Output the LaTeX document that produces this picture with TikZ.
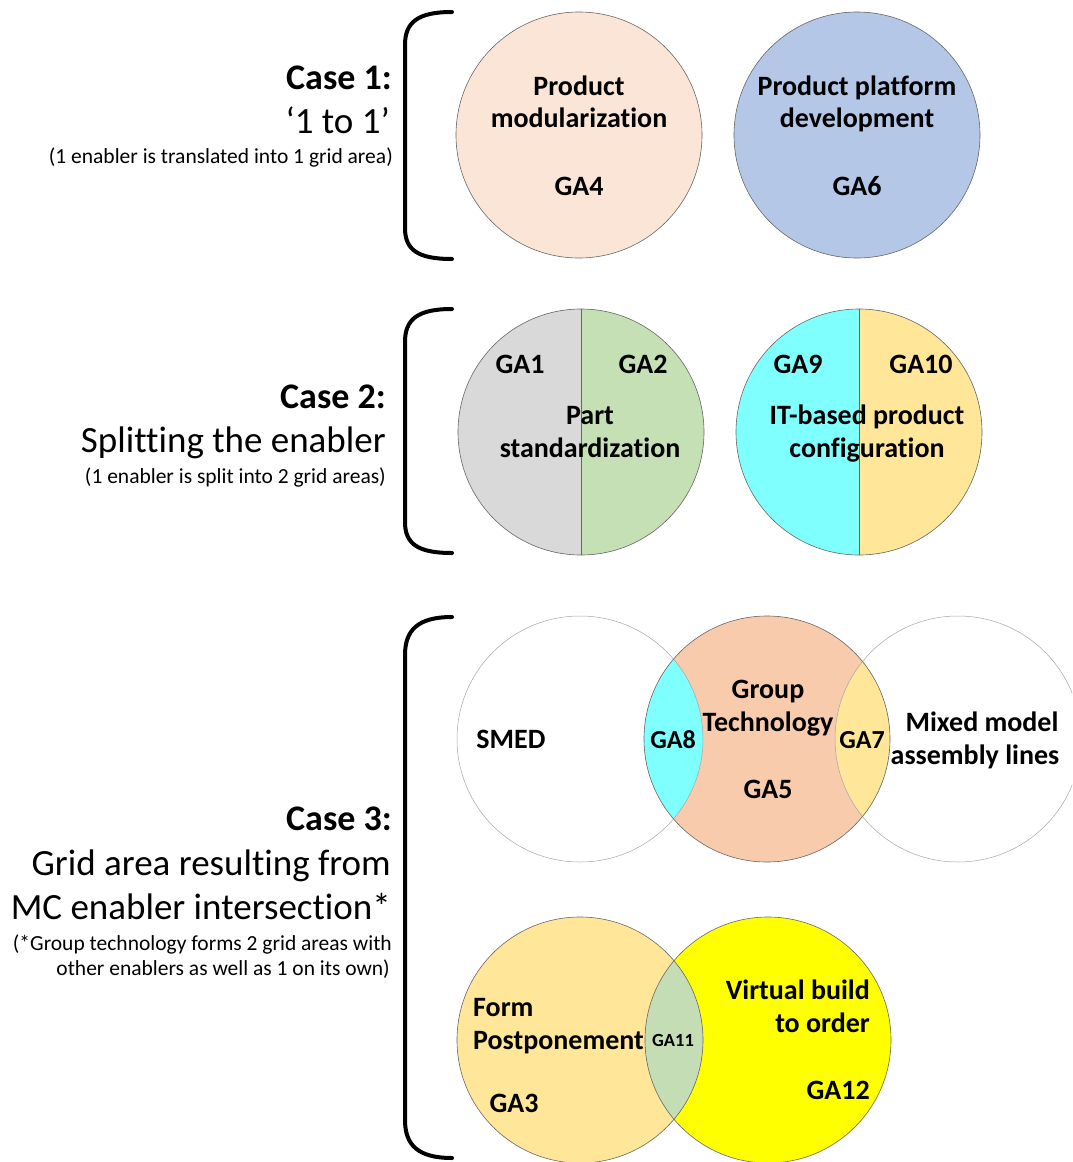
\documentclass[tikz,border=0pt]{standalone}
\usepackage{fontspec}
\setmainfont{Carlito}[Ligatures=CommonOff]
\definecolor{peach}{HTML}{FBE5D6}
\definecolor{steel}{HTML}{B4C7E7}
\definecolor{lgrey}{HTML}{D9D9D9}
\definecolor{lgreen}{HTML}{C5E0B4}
\definecolor{aqua}{HTML}{80FFFF}
\definecolor{sand}{HTML}{FFE699}
\definecolor{salmon}{HTML}{F8CBAD}
\definecolor{lemon}{HTML}{FFFF00}
\definecolor{sage}{HTML}{C5DDB5}
\tikzset{
  disc/.style={circle, minimum size=246pt, inner sep=0pt, draw=black!60, line width=0.6pt},
  ring/.style={circle, minimum size=246pt, inner sep=0pt, draw=black!35, line width=0.5pt},
  brace/.style={line width=4pt, line cap=round},
  lbl/.style={font=\fontsize{28}{32}\selectfont\bfseries, inner sep=0pt, anchor=base},
  gal/.style={font=\fontsize{26}{30}\selectfont\bfseries, inner sep=0pt, anchor=base},
  small/.style={font=\fontsize{18.5}{22}\selectfont\bfseries, inner sep=0pt, anchor=base},
  head/.style={font=\fontsize{36}{40}\selectfont\bfseries, inner sep=0pt, anchor=base east},
  sub/.style={font=\fontsize{37}{42}\selectfont, inner sep=0pt, anchor=base east},
  note/.style={font=\fontsize{21.5}{25}\selectfont, inner sep=0pt, anchor=base east},
}
\begin{document}
\begin{tikzpicture}[x=1pt, y=-1pt]
\useasboundingbox (0,0) rectangle (1072,1162);
\clip (0,0) rectangle (1072,1162);

% ---------- brackets ----------
\draw[brace] (452,12) .. controls (418,12) and (405,22) .. (405,45)
  -- (405,228) .. controls (405,250) and (418,259) .. (452,259);
\draw[brace] (452,309) .. controls (418,309) and (405,319) .. (405,342)
  -- (405,522) .. controls (405,544) and (418,553) .. (452,553);
\draw[brace] (452,617) .. controls (418,617) and (405,630) .. (405,655)
  -- (405,1120) .. controls (405,1145) and (418,1158) .. (452,1158);

% ---------- case labels ----------
\node[head] (h1) at (392,89) {Case 1:};
\node[sub]  (s1) at (390,133) {‘1 to 1’};
\node[note] (n1) at (393,163) {(1 enabler is translated into 1 grid area)};

\node[head] (h2) at (386,408) {Case 2:};
\node[sub]  (s2) at (386,452) {Splitting the enabler};
\node[note] (n2) at (386,483) {(1 enabler is split into 2 grid areas)};

\node[head] (h3) at (392,830) {Case 3:};
\node[sub]  (s3a) at (391,875) {Grid area resulting from};
\node[sub]  (s3b) at (391,919) {MC enabler intersection*};
\node[note] (n3a) at (392,950) {(*Group technology forms 2 grid areas with};
\node[note] (n3b) at (390,975) {other enablers as well as 1 on its own)};

% ---------- case 1 ----------
\node[disc, fill=peach] (pm) at (579,135) {};
\node[disc, fill=steel] (pp) at (857,135) {};
\node[lbl] (pm1) at (579,95) {Product};
\node[lbl] (pm2) at (579,127) {modularization};
\node[lbl] (ga4) at (579,195) {GA4};
\node[lbl] (pp1) at (857,95) {Product platform};
\node[lbl] (pp2) at (857,127) {development};
\node[lbl] (ga6) at (857,195) {GA6};

% ---------- case 2 ----------
\coordinate (psc) at (581,432);
\coordinate (itc) at (859,432);
\fill[lgrey] (psc) circle (123pt);
\begin{scope}
  \clip (581,300) rectangle (720,570);
  \fill[lgreen] (psc) circle (123pt);
\end{scope}
\fill[aqua] (itc) circle (123pt);
\begin{scope}
  \clip (859,300) rectangle (1000,570);
  \fill[sand] (itc) circle (123pt);
\end{scope}
\node[disc] (ps) at (psc) {};
\node[disc] (it) at (itc) {};
\draw[black!60, line width=0.6pt] (ps.north) -- (ps.south);
\draw[black!60, line width=0.6pt] (it.north) -- (it.south);
\node[lbl] (ga1) at (520,373) {GA1};
\node[lbl] (ga2) at (643,373) {GA2};
\node[lbl] (ps1) at (590,424) {Part};
\node[lbl] (ps2) at (590,457) {standardization};
\node[lbl] (ga9) at (798,373) {GA9};
\node[lbl] (ga10) at (921,373) {GA10};
\node[lbl] (it1) at (867,424) {IT-based product};
\node[lbl] (it2) at (867,457) {configuration};

% ---------- case 3, upper group ----------
\coordinate (smc) at (580,739);
\coordinate (gtc) at (767,739);
\coordinate (mmc) at (958,739);
\fill[salmon] (gtc) circle (123pt);
\begin{scope}
  \clip (smc) circle (123pt);
  \fill[aqua] (gtc) circle (123pt);
\end{scope}
\begin{scope}
  \clip (mmc) circle (123pt);
  \fill[sand] (gtc) circle (123pt);
\end{scope}
\node[ring] (smed) at (smc) {};
\node[ring] (mm) at (mmc) {};
\node[disc] (gt) at (gtc) {};
\node[lbl] (sm1) at (511,748) {SMED};
\node[gal] (ga8) at (673,748) {GA8};
\node[lbl] (gt1) at (768,698) {Group};
\node[lbl] (gt2) at (768,731) {Technology};
\node[lbl] (ga5) at (768,798) {GA5};
\node[gal] (ga7) at (862,748) {GA7};
\node[lbl] (mm1) at (982,731) {Mixed model};
\node[lbl] (mm2) at (975,764) {assembly lines};

% ---------- case 3, lower group ----------
\coordinate (fpc) at (580,1040);
\coordinate (vbc) at (768,1040);
\fill[sand] (fpc) circle (123pt);
\fill[lemon] (vbc) circle (123pt);
\begin{scope}
  \clip (fpc) circle (123pt);
  \fill[sage] (vbc) circle (123pt);
\end{scope}
\node[disc] (fp) at (fpc) {};
\node[disc] (vb) at (vbc) {};
\node[lbl, anchor=base west] (fp1) at (473,1016) {Form};
\node[lbl, anchor=base west] (fp2) at (473,1049) {Postponement};
\node[small] (ga11) at (673,1046) {GA11};
\node[lbl, anchor=base east] (vb1) at (870,999) {Virtual build};
\node[lbl, anchor=base east] (vb2) at (870,1032) {to order};
\node[lbl, anchor=base east] (ga12) at (870,1099) {GA12};
\node[lbl] (ga3) at (514,1112) {GA3};
\end{tikzpicture}
\end{document}
